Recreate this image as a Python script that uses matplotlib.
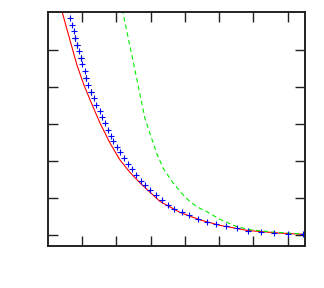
import matplotlib
matplotlib.use('Agg')
import matplotlib.pyplot as plt

# red solid curve
red_x = [0.394, 0.423, 0.642, 0.846, 1.050, 1.255, 1.517, 1.809, 2.101, 2.393, 2.685,
         3.268, 3.852, 4.435, 5.019, 5.836, 6.770, 7.500]
red_y = [6.065, 5.984, 5.256, 4.582, 4.043, 3.585, 3.019, 2.480, 2.022, 1.685, 1.402,
         0.903, 0.606, 0.404, 0.256, 0.116, 0.046, 0.013]

# green dashed curve
green_x = [2.170, 2.197, 2.509, 2.830, 2.976, 3.172, 3.364, 3.656, 3.948, 4.144, 4.377,
           4.631, 5.019, 5.506, 5.894, 6.478, 7.441, 7.500]
green_y = [6.080, 5.957, 4.582, 3.146, 2.741, 2.202, 1.798, 1.393, 1.078, 0.898, 0.741,
           0.628, 0.418, 0.224, 0.140, 0.081, 0.022, 0.020]

# blue + markers
blue_x = [0.651, 0.700, 0.759, 0.788, 0.846, 0.896, 0.954, 0.992, 1.071, 1.118, 1.176,
          1.246, 1.342, 1.415, 1.509, 1.584, 1.663, 1.760, 1.830, 1.905, 2.005, 2.101,
          2.218, 2.326, 2.442, 2.568, 2.714, 2.830, 2.976, 3.143, 3.318, 3.510, 3.677,
          3.901, 4.123, 4.386, 4.630, 4.902, 5.185, 5.506, 5.845, 6.215, 6.603, 7.012,
          7.450]
blue_y = [5.857, 5.668, 5.491, 5.310, 5.113, 4.951, 4.771, 4.601, 4.412, 4.232, 4.035,
          3.854, 3.679, 3.504, 3.342, 3.173, 3.005, 2.830, 2.668, 2.534, 2.380, 2.229,
          2.067, 1.914, 1.771, 1.617, 1.456, 1.348, 1.213, 1.070, 0.943, 0.817, 0.709,
          0.620, 0.531, 0.431, 0.358, 0.296, 0.251, 0.181, 0.116, 0.073, 0.046, 0.027,
          0.019]

# black + markers, mostly hidden behind the blue ones
black_x = [0.79, 0.85, 0.96, 1.12, 1.25]
black_y = [5.31, 5.11, 4.77, 4.23, 3.85]

fig = plt.figure(figsize=(3.24, 2.88), dpi=100)
ax = fig.add_axes([0.148, 0.146, 0.793, 0.812])

ax.plot(red_x, red_y, color='#ff0000', lw=0.8)
ax.plot(green_x, green_y, color='#00ee00', lw=0.8, ls=(0, (4, 3)))
ax.plot(black_x, black_y, ls='none', marker='+', ms=5, mew=0.8, color='black')
ax.plot(blue_x, blue_y, ls='none', marker='+', ms=5, mew=0.8, color='#0000ff')

ax.set_xlim(0, 7.5)
ax.set_ylim(-0.3, 6.01)
ax.set_xticks([1, 2, 3, 4, 5, 6, 7])
ax.set_yticks([0, 1, 2, 3, 4, 5])
ax.set_xticklabels([])
ax.set_yticklabels([])
ax.tick_params(direction='in', top=True, right=True, length=7, width=1.0, color='#222222')
for s in ax.spines.values():
    s.set_linewidth(1.4)
    s.set_color('#222222')

fig.savefig('out.png', dpi=100)
